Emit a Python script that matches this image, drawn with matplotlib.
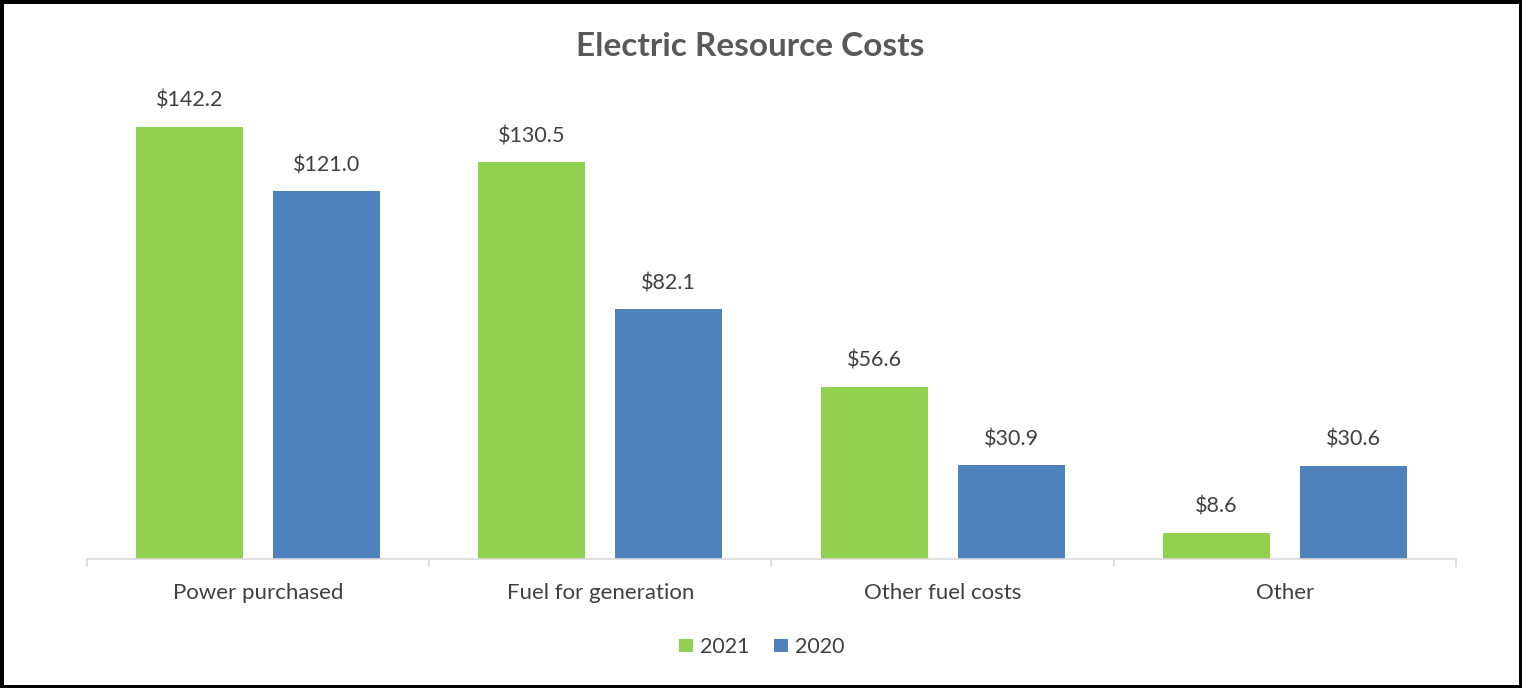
import matplotlib.pyplot as plt
import numpy as np

categories = ['Power purchased', 'Fuel for generation', 'Other fuel costs', 'Other']
costs_2021 = [142.2, 130.5, 56.6, 8.6]
costs_2020 = [121.0, 82.1, 30.9, 30.6]

GREEN = '#92D050'
BLUE = '#4F81BD'
TEXT = '#404040'

plt.rcParams['font.family'] = ['Lato', 'DejaVu Sans']

fig = plt.figure(figsize=(15.22, 6.88), dpi=100)
fig.patch.set_edgecolor('black')
fig.patch.set_linewidth(5)

ax = fig.add_axes([87 / 1522, 129 / 688, 1369 / 1522, 456 / 688])

x = np.arange(len(categories))
w = 0.313
b1 = ax.bar(x - 0.2, costs_2021, w, color=GREEN, label='2021')
b2 = ax.bar(x + 0.2, costs_2020, w, color=BLUE, label='2020')

for bars, vals in ((b1, costs_2021), (b2, costs_2020)):
    for bar, v in zip(bars, vals):
        ax.annotate(f'${v:.1f}', (bar.get_x() + bar.get_width() / 2, v),
                    xytext=(0, 26), textcoords='offset pixels',
                    ha='center', va='center', fontsize=15.5, color=TEXT)

ax.set_xlim(-0.5, 3.5)
ax.set_ylim(0, 150)
ax.set_yticks([])
for s in ('top', 'right', 'left'):
    ax.spines[s].set_visible(False)
ax.spines['bottom'].set_color('#D9D9D9')
ax.spines['bottom'].set_linewidth(1.2)

ax.set_xticks(x)
ax.set_xticklabels(categories, fontsize=16, color=TEXT)
ax.tick_params(axis='x', length=0, pad=17.5)
# category separator ticks
ax.set_xticks(np.arange(-0.5, 4.0, 1.0), minor=True)
ax.tick_params(axis='x', which='minor', length=6, color='#D9D9D9', width=1.2)

fig.text(0.493, 0.932, 'Electric Resource Costs', ha='center', va='center',
         fontsize=24, fontweight='bold', color='#595959')

ax.legend(loc='center', bbox_to_anchor=(762 / 1522, 41 / 688),
          bbox_transform=fig.transFigure, ncol=2, frameon=False,
          fontsize=15.5, handlelength=0.63, handleheight=0.6,
          handletextpad=0.35, columnspacing=1.15, labelcolor=TEXT)

fig.savefig('out.png', dpi=100, edgecolor=fig.get_edgecolor())
